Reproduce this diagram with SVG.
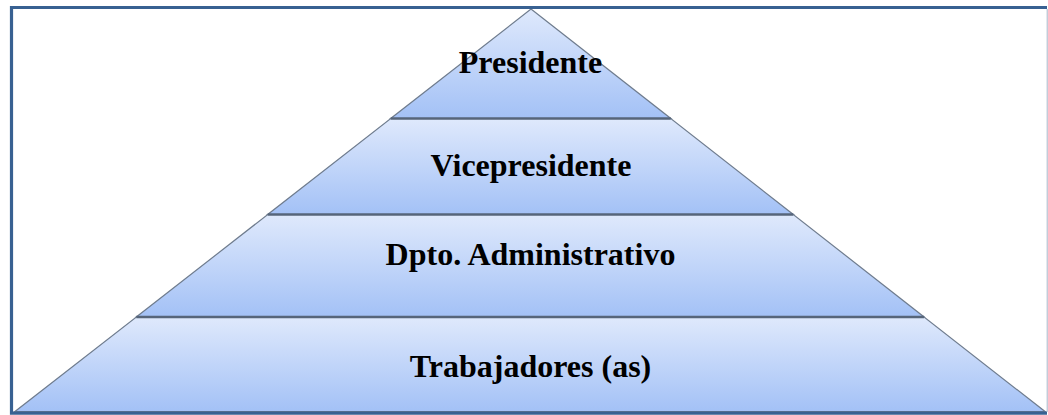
<svg xmlns="http://www.w3.org/2000/svg" width="1048" height="415" viewBox="0 0 1048 415">
  <defs>
    <linearGradient id="lvl" x1="0" y1="0" x2="0" y2="1">
      <stop offset="0" stop-color="#dfe9fc"/>
      <stop offset="1" stop-color="#a3c1f6"/>
    </linearGradient>
    <style>
      .lvl { fill: url(#lvl); stroke: #6f7c8e; stroke-width: 1.2; stroke-linejoin: miter; }
      .div { stroke: #56657a; stroke-width: 2.4; }
      .lbl { font-family: "Liberation Serif", "Times New Roman", serif; font-weight: bold; font-size: 32px; fill: #000; text-anchor: middle; }
      .frame { stroke: #386192; stroke-width: 3.2; fill: none; }
    </style>
  </defs>
  <rect x="0" y="0" width="1048" height="415" fill="#ffffff"/>
  <g id="level-presidente">
    <polygon class="lvl" points="531,9 670.8,118.5 390.7,118.5"/>
    <text class="lbl" x="530.5" y="72.5">Presidente</text>
  </g>
  <g id="level-vicepresidente">
    <polygon class="lvl" points="390.7,118.5 670.8,118.5 793.3,214.5 267.7,214.5"/>
    <text class="lbl" x="531" y="176">Vicepresidente</text>
  </g>
  <g id="level-dpto">
    <polygon class="lvl" points="267.7,214.5 793.3,214.5 924.1,317 136.3,317"/>
    <text class="lbl" x="530.5" y="265">Dpto. Administrativo</text>
  </g>
  <g id="level-trabajadores">
    <polygon class="lvl" points="136.3,317 924.1,317 1045,411.5 15,411.5"/>
    <text class="lbl" x="530.5" y="376.5">Trabajadores (as)</text>
  </g>
  <g id="dividers">
    <line class="div" x1="390.7" y1="118.5" x2="670.8" y2="118.5"/>
    <line class="div" x1="267.7" y1="214.5" x2="793.3" y2="214.5"/>
    <line class="div" x1="136.3" y1="317" x2="924.1" y2="317"/>
  </g>
  <g id="frame">
    <polyline class="frame" points="1047,7.5 11.5,7.5 11.5,413.2 1047,413.2"/>
    <line x1="1047.2" y1="9" x2="1047.2" y2="412" stroke="#a8b6c8" stroke-width="1"/>
  </g>
</svg>
